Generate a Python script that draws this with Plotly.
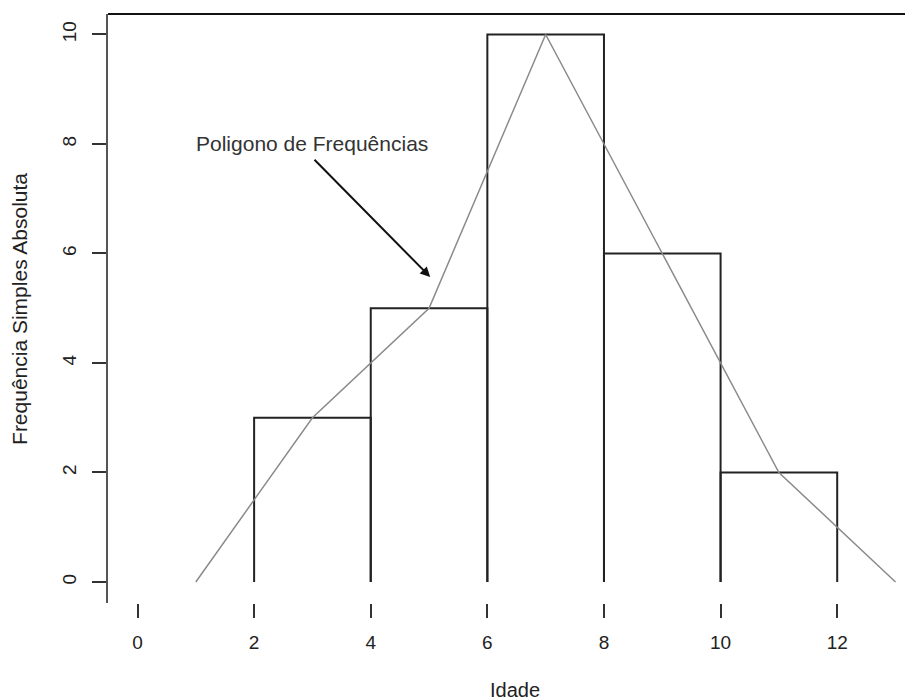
import plotly.graph_objects as go

# Data
bin_edges = [2, 4, 6, 8, 10, 12]
counts = [3, 5, 10, 6, 2]
poly_x = [1, 3, 5, 7, 9, 11, 13]
poly_y = [0, 3, 5, 10, 6, 2, 0]
x_ticks = [0, 2, 4, 6, 8, 10, 12]
y_ticks = [0, 2, 4, 6, 8, 10]
annot_text = "Poligono de Frequências"
annot_pos = (3, 8)
arrow_from = (3.01, 7.74)
arrow_to = (5.02, 5.57)

FONT = "Liberation Sans, Arial, sans-serif"

# Build histogram rectangles (no bottom edge) from data
bx, by = [], []
for i, h in enumerate(counts):
    x0, x1 = bin_edges[i], bin_edges[i + 1]
    bx += [x0, x0, x1, x1, None]
    by += [0, h, h, 0, None]

fig = go.Figure()
fig.add_trace(go.Scatter(x=bx, y=by, mode="lines",
                         line=dict(color="#222222", width=2),
                         hoverinfo="skip", showlegend=False))
fig.add_trace(go.Scatter(x=poly_x, y=poly_y, mode="lines",
                         line=dict(color="#8a8a8a", width=1.5),
                         showlegend=False))

fig.update_layout(
    width=905, height=692,
    margin=dict(l=100, r=0, t=6, b=97),
    plot_bgcolor="white", paper_bgcolor="white",
    font=dict(family=FONT, size=19, color="#222222"),
    xaxis=dict(range=[-0.506, 13.30], tickvals=x_ticks, showgrid=False,
               zeroline=False, showline=False, ticks="outside", ticklen=14,
               tickwidth=2, tickcolor="#333333", ticklabelstandoff=8,
               tickfont=dict(size=19, family=FONT, color="#222222")),
    yaxis=dict(range=[-0.384, 10.374], tickvals=y_ticks, showgrid=False,
               zeroline=False, showline=True, linecolor="#555555", linewidth=1.5,
               ticks="outside", ticklen=14, tickwidth=2, tickcolor="#333333",
               tickangle=-90, ticklabelstandoff=9,
               tickfont=dict(size=19, family=FONT, color="#222222")),
    shapes=[dict(type="line", xref="paper", yref="paper", x0=0, x1=1, y0=1, y1=1,
                 line=dict(color="#111111", width=2))],
    annotations=[
        dict(text=annot_text, x=annot_pos[0], y=annot_pos[1], xref="x", yref="y",
             showarrow=False, font=dict(size=21, family=FONT, color="#333333")),
        dict(text="", x=arrow_to[0], y=arrow_to[1], xref="x", yref="y",
             ax=arrow_from[0], ay=arrow_from[1], axref="x", ayref="y",
             showarrow=True, arrowhead=2, arrowsize=1, arrowwidth=2,
             arrowcolor="#111111"),
        dict(text="Idade", xref="paper", yref="paper", x=0.505, y=-0.148,
             xanchor="center", yanchor="middle", showarrow=False,
             font=dict(size=20, family=FONT, color="#222222")),
        dict(text="Frequência Simples Absoluta", xref="paper", yref="paper",
             x=-0.11, y=0.5, xanchor="center", yanchor="middle",
             textangle=-90, showarrow=False,
             font=dict(size=21, family=FONT, color="#222222")),
    ],
)

fig.write_html("out.html")
